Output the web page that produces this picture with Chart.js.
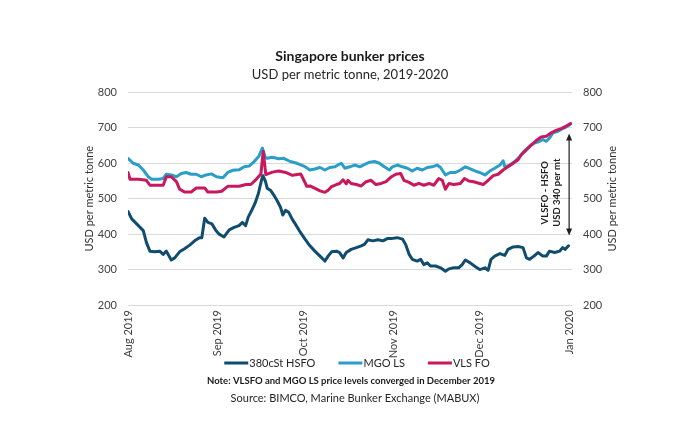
<!DOCTYPE html>
<html>
<head>
<meta charset="utf-8">
<script src="https://cdn.jsdelivr.net/npm/chart.js@4.4.1/dist/chart.umd.min.js"></script>
<style>
html,body{margin:0;padding:0;background:#ffffff;}
#wrap{width:700px;height:440px;}
</style>
</head>
<body>
<div id="wrap"><canvas id="c" width="700" height="440"></canvas></div>
<script>
// x positions are days since 1 Aug 2019
const monthTicks = [0, 31, 61, 92, 122, 153];
const monthLabels = ['Aug 2019', 'Sep 2019', 'Oct 2019', 'Nov 2019', 'Dec 2019', 'Jan 2020'];
const yTicks = [200, 300, 400, 500, 600, 700, 800];

const hsfoDays = [0,1.3,3.6,5.3,6.4,7.6,9.3,11,12.2,13.3,15,16.2,17.9,19.6,21.4,23.1,24.8,25.6,26.6,27.7,
  29.1,30.5,31.6,33.3,35.1,36.8,38.5,39.7,40.8,41.7,42.9,44,45.2,46.3,46.8,47.7,48.3,49.4,50.6,51.7,
  52.9,53.7,54.6,55.7,56.9,58,59.4,61.4,63.1,64.8,66.6,68.3,69.4,70.6,72.3,73.4,74.6,75.7,77.4,79.2,
  80.9,82,83.2,84.9,86.7,88.4,90.1,91.7,93.4,95.2,96.3,97.5,98.6,100.3,101.5,102.6,103.8,104.9,106.7,108.4,
  110.1,111.3,113,114.7,115.9,117,118.7,120.5,122,123.8,124.9,125.9,127.2,129,130.7,131.8,133.6,135.3,137,138.2,
  139.3,140.8,142.2,143.9,145.1,146.2,148,149.7,150.8,151.6,152.8];
const hsfoPrices = [464,443,424,410,376,352,350,352,343,352,327,333,350,359,369,381,390,390,445,433,
  429,410,400,392,412,419,424,433,424,448,467,486,514,552,565,548,529,524,510,495,
  476,454,467,462,443,429,410,386,367,352,338,324,338,350,352,348,333,348,357,362,
  367,371,384,381,384,381,388,388,390,386,371,343,329,324,329,314,319,310,310,305,
  295,302,305,305,314,327,319,308,300,305,298,329,338,345,340,357,364,365,362,333,
  329,338,348,338,338,352,348,352,362,357,367];

const mgoDays = [0,1.8,3.6,5.3,7,8.2,10.5,12.2,13.3,15,16.8,18.5,20.2,21.9,23.7,25.4,27.1,28.9,30.7,32.9,
  34.6,36.3,38.6,40.3,42,43.7,45.4,46.6,47.6,48.3,50,52.3,54,56.3,58.6,61,63.1,64.8,66.6,68.3,
  70,71.8,73.2,74,75.2,76.9,78.6,80.4,82.1,83.8,85.5,87.2,88.9,90.7,91.7,93.4,95.2,96.9,98.6,100.3,
  102.1,103.8,105.5,107.2,108.4,110.1,111.8,113.6,115.3,117,118.7,120.5,122,123.8,125.5,127.2,129,130.1,130.7,132.4,
  134.1,135.9,137.6,139.3,141,142.8,143.9,145.1,146.2,147.4,149.1,150.8,152.5,153.5];
const mgoPrices = [614,600,595,581,562,555,555,557,569,567,562,571,574,569,569,562,567,570,562,559,
  574,580,582,590,592,604,620,643,617,614,617,613,614,605,600,592,581,584,588,581,
  588,590,597,600,586,590,595,590,597,603,605,600,590,581,590,595,590,586,578,586,
  581,588,590,595,588,567,574,574,581,590,584,578,574,567,578,586,595,607,590,595,
  605,619,636,648,657,662,667,662,671,686,690,698,705,711];

const vlsDays = [0,0.7,3.6,6.4,7.6,12.2,13.3,15,16.8,17.9,19.6,21.9,23.7,26.6,27.7,30.7,32.5,34.6,38.6,40.9,
  42.6,44.4,46.1,46.9,47.8,50.1,52.3,54.7,57,59.9,61,62,63.1,65.4,66.6,68.3,69.4,70.6,72.3,73.4,
  74.6,75.7,76.3,77.4,79.2,80.9,82.6,84.3,86,87.8,89.5,91.4,92.9,94.6,95.7,97.5,99.2,100.9,102.6,104.4,
  106.1,107.8,109,110.1,111.3,113,115.3,116.7,118.2,119.9,122,123.2,124.9,126.7,128.4,130.1,131.8,133.6,135.3,136.4,
  138.2,139.9,141.6,143.3,145.1,146.8,148.5,150.2,152,153.5];
const vlsPrices = [574,555,555,552,538,538,562,562,548,527,519,519,530,530,519,519,521,535,535,540,
  540,554,570,634,568,575,578,574,566,570,552,535,536,527,522,518,524,534,540,543,
  553,542,552,543,540,536,548,552,540,543,548,562,569,571,552,546,538,543,538,543,
  538,557,552,527,543,540,543,557,550,548,543,540,552,565,569,581,590,600,610,624,
  638,652,664,674,676,686,693,698,705,712];

const seriesNames = ['380cSt HSFO', 'MGO LS', 'VLS FO'];
const seriesColors = ['#0f4c6d', '#2a9dc9', '#c9195d'];

// annotation: spread arrow between VLSFO and HSFO at year end
const spreadLines = ['VLSFO - HSFO', 'USD 340 per mt'];
const spreadArrowDay = 153;
const spreadArrowTop = 684;
const spreadArrowBottom = 396;
const spreadTextDays = [144.6, 148.8];
const spreadTextValue = 517;

const axisTitle = 'USD per metric tonne';
const noteText = 'Note: VLSFO and MGO LS price levels converged in December 2019';
const sourceText = 'Source: BIMCO, Marine Bunker Exchange (MABUX)';

const FONT = 'Lato, "Open Sans", "Noto Sans", sans-serif';

function pts(days, vals) { return days.map((d, i) => ({ x: d, y: vals[i] })); }

const extras = {
  id: 'extras',
  afterDatasetsDraw(chart) {
    const { ctx, scales } = chart;
    const x = scales.x, y = scales.y;
    const ax = x.getPixelForValue(spreadArrowDay);
    const yt = y.getPixelForValue(spreadArrowTop);
    const yb = y.getPixelForValue(spreadArrowBottom);
    ctx.save();
    ctx.strokeStyle = '#1e1e1e';
    ctx.fillStyle = '#1e1e1e';
    ctx.lineWidth = 1.2;
    ctx.beginPath();
    ctx.moveTo(ax, yt + 5);
    ctx.lineTo(ax, yb - 5);
    ctx.stroke();
    ctx.beginPath();
    ctx.moveTo(ax, yt); ctx.lineTo(ax - 3, yt + 7); ctx.lineTo(ax + 3, yt + 7); ctx.closePath(); ctx.fill();
    ctx.beginPath();
    ctx.moveTo(ax, yb); ctx.lineTo(ax - 3, yb - 7); ctx.lineTo(ax + 3, yb - 7); ctx.closePath(); ctx.fill();
    ctx.font = 'bold 9.5px ' + FONT;
    ctx.textAlign = 'center';
    ctx.textBaseline = 'middle';
    const ty = y.getPixelForValue(spreadTextValue);
    spreadLines.forEach((t, i) => {
      const tx = x.getPixelForValue(spreadTextDays[i]);
      ctx.save();
      ctx.translate(tx, ty);
      ctx.rotate(-Math.PI / 2);
      ctx.fillText(t, 0, 0);
      ctx.restore();
    });
    ctx.restore();
  },
  afterDraw(chart) {
    const { ctx, chartArea } = chart;
    ctx.save();
    // axis titles (both read bottom-to-top)
    ctx.fillStyle = '#333333';
    ctx.font = '11px ' + FONT;
    ctx.textAlign = 'center';
    ctx.textBaseline = 'middle';
    const cy = (chartArea.top + chartArea.bottom) / 2;
    [chartArea.left - 39, chartArea.right + 40].forEach(px => {
      ctx.save();
      ctx.translate(px, cy);
      ctx.rotate(-Math.PI / 2);
      ctx.fillText(axisTitle, 0, 0);
      ctx.restore();
    });
    // legend built from the datasets
    const legendY = 363;
    ctx.font = '11px ' + FONT;
    ctx.textAlign = 'left';
    const items = chart.data.datasets.map(ds => ({ label: ds.label, color: ds.borderColor, w: ctx.measureText(ds.label).width }));
    const lineW = 24, gapLT = 1, gapItems = 23;
    const total = items.reduce((s, it) => s + lineW + gapLT + it.w, 0) + gapItems * (items.length - 1);
    let lx = 357 - total / 2;
    items.forEach(it => {
      ctx.fillStyle = it.color;
      ctx.fillRect(lx, legendY - 1.5, lineW, 3);
      ctx.fillStyle = '#262626';
      ctx.fillText(it.label, lx + lineW + gapLT, legendY + 0.5);
      lx += lineW + gapLT + it.w + gapItems;
    });
    // note and source
    ctx.textAlign = 'center';
    ctx.fillStyle = '#1a1a1a';
    ctx.font = 'bold 9.5px ' + FONT;
    ctx.fillText(noteText, 351, 381);
    ctx.fillStyle = '#262626';
    ctx.font = '11px ' + FONT;
    ctx.fillText(sourceText, 355, 398);
    ctx.restore();
  }
};

const yAxisCommon = {
  type: 'linear',
  min: 200,
  max: 800,
  border: { display: false },
  afterBuildTicks: (s) => { s.ticks = yTicks.map(v => ({ value: v })); },
  ticks: { padding: 11, color: '#404040', font: { family: FONT, size: 11 } },
  afterFit: (s) => { s.width = 128; }
};

new Chart(document.getElementById('c'), {
  type: 'line',
  data: {
    datasets: [
      { label: seriesNames[0], data: pts(hsfoDays, hsfoPrices), borderColor: seriesColors[0], backgroundColor: seriesColors[0], order: 2 },
      { label: seriesNames[1], data: pts(mgoDays, mgoPrices), borderColor: seriesColors[1], backgroundColor: seriesColors[1], order: 1 },
      { label: seriesNames[2], data: pts(vlsDays, vlsPrices), borderColor: seriesColors[2], backgroundColor: seriesColors[2], order: 0 }
    ]
  },
  options: {
    responsive: false,
    animation: false,
    layout: { padding: { top: 48, left: 0, right: 0, bottom: 75 } },
    elements: {
      line: { borderWidth: 3, tension: 0, borderJoinStyle: 'round', borderCapStyle: 'round' },
      point: { radius: 0, hoverRadius: 0 }
    },
    scales: {
      x: {
        type: 'linear',
        min: 0,
        max: 154,
        grid: { display: false, drawTicks: false },
        border: { display: false },
        afterBuildTicks: (s) => { s.ticks = monthTicks.map(v => ({ value: v })); },
        afterFit: (s) => { s.height = 60; },
        ticks: {
          autoSkip: false,
          maxRotation: 90,
          minRotation: 90,
          padding: 5,
          color: '#404040',
          font: { family: FONT, size: 11 },
          callback: (v, i) => monthLabels[i]
        }
      },
      y: Object.assign({}, yAxisCommon, {
        position: 'left',
        grid: { color: '#d9d9d9', lineWidth: 1, drawTicks: false }
      }),
      y2: Object.assign({}, yAxisCommon, {
        position: 'right',
        grid: { display: false, drawTicks: false }
      })
    },
    plugins: {
      title: {
        display: true,
        text: 'Singapore bunker prices',
        color: '#1a1a1a',
        font: { family: FONT, size: 14, weight: 'bold' },
        padding: { top: 0, bottom: 2 }
      },
      subtitle: {
        display: true,
        text: 'USD per metric tonne, 2019-2020',
        color: '#262626',
        font: { family: FONT, size: 13 },
        padding: { top: 0, bottom: 10 }
      },
      legend: { display: false },
      tooltip: { enabled: false }
    }
  },
  plugins: [extras]
});
</script>
</body>
</html>
